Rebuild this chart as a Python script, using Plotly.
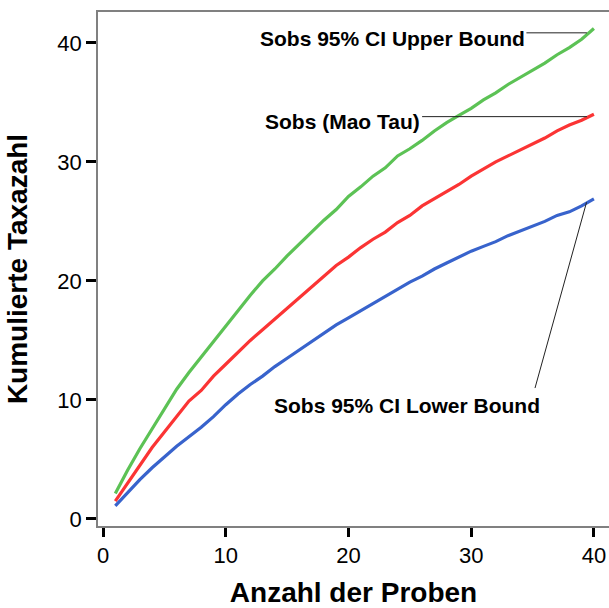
import plotly.graph_objects as go

samples = list(range(1, 41))

upper_bound = [2.15, 4.1, 5.9, 7.6, 9.3, 10.9, 12.3, 13.6, 14.9, 16.3,
               17.5, 18.8, 20.0, 21.0, 22.1, 23.1, 24.1, 25.1, 26.0, 27.1,
               27.9, 28.8, 29.5, 30.5, 31.1, 31.8, 32.6, 33.3, 33.9, 34.5,
               35.2, 35.8, 36.5, 37.1, 37.7, 38.3, 39.0, 39.6, 40.3, 41.2]

mao_tau = [1.5, 3.0, 4.5, 6.0, 7.3, 8.6, 9.9, 10.8, 12.0, 13.0,
           14.0, 15.0, 15.9, 16.8, 17.7, 18.6, 19.5, 20.4, 21.3, 22.0,
           22.8, 23.5, 24.1, 24.9, 25.5, 26.3, 26.9, 27.5, 28.1, 28.8,
           29.4, 30.0, 30.5, 31.0, 31.5, 32.0, 32.6, 33.1, 33.5, 34.0]

lower_bound = [1.1, 2.2, 3.3, 4.3, 5.2, 6.1, 6.9, 7.7, 8.6, 9.6,
               10.5, 11.3, 12.0, 12.8, 13.5, 14.2, 14.9, 15.6, 16.3, 16.9,
               17.5, 18.1, 18.7, 19.3, 19.9, 20.4, 21.0, 21.5, 22.0, 22.5,
               22.9, 23.3, 23.8, 24.2, 24.6, 25.0, 25.5, 25.8, 26.3, 26.9]

x_ticks = [0, 10, 20, 30, 40]
y_ticks = [0, 10, 20, 30, 40]

labels = ["Sobs 95% CI Upper Bound", "Sobs (Mao Tau)", "Sobs 95% CI Lower Bound"]

FONT = "Liberation Sans, Arial, sans-serif"

fig = go.Figure()
fig.add_trace(go.Scatter(x=samples, y=upper_bound, mode="lines",
                         line=dict(color="#5cc255", width=3.2), showlegend=False))
fig.add_trace(go.Scatter(x=samples, y=mao_tau, mode="lines",
                         line=dict(color="#fb3434", width=3.2), showlegend=False))
fig.add_trace(go.Scatter(x=samples, y=lower_bound, mode="lines",
                         line=dict(color="#3863cc", width=3.2), showlegend=False))

lab_font = dict(family=FONT, size=21, color="black")
# Upper bound label + leader
fig.add_annotation(x=34.55, y=40.4, text="<b>" + labels[0] + "</b>", showarrow=False,
                   xanchor="right", yanchor="middle", font=lab_font)
fig.add_shape(type="line", x0=34.5, y0=40.84, x1=39.43, y1=40.84,
              line=dict(color="#222222", width=1))
# Mao Tau label + leader
fig.add_annotation(x=26.0, y=33.4, text="<b>" + labels[1] + "</b>", showarrow=False,
                   xanchor="right", yanchor="middle", font=lab_font)
fig.add_shape(type="line", x0=26.0, y0=33.8, x1=39.43, y1=33.8,
              line=dict(color="#222222", width=1))
# Lower bound label + leader
fig.add_annotation(x=24.8, y=9.5, text="<b>" + labels[2] + "</b>", showarrow=False,
                   xanchor="center", yanchor="middle", font=lab_font)
fig.add_shape(type="line", x0=35.2, y0=11.0, x1=39.4, y1=26.6,
              line=dict(color="#222222", width=1))

fig.update_layout(
    width=609, height=608,
    margin=dict(l=98, r=0, t=12, b=80),
    paper_bgcolor="white", plot_bgcolor="white",
    font=dict(family=FONT, size=22, color="black"),
    xaxis=dict(range=[-0.41, 41.23], tickvals=x_ticks, ticks="outside",
               ticklen=9, tickwidth=3, tickcolor="black",
               showline=True, linecolor="#808080", linewidth=1.5, mirror=True,
               showgrid=False, zeroline=False,
               tickfont=dict(family=FONT, size=22, color="black"),
               title=dict(text="<b>Anzahl der Proben</b>",
                          font=dict(family=FONT, size=28, color="black"), standoff=20)),
    yaxis=dict(range=[-0.59, 42.59], tickvals=y_ticks, ticks="outside",
               ticklen=10, tickwidth=3, tickcolor="black",
               showline=True, linecolor="#808080", linewidth=1.5, mirror=False,
               showgrid=False, zeroline=False,
               tickfont=dict(family=FONT, size=22, color="black"),
               title=dict(text="<b>Kumulierte Taxazahl</b>",
                          font=dict(family=FONT, size=28, color="black"), standoff=22)),
)

fig.write_html("out.html")
